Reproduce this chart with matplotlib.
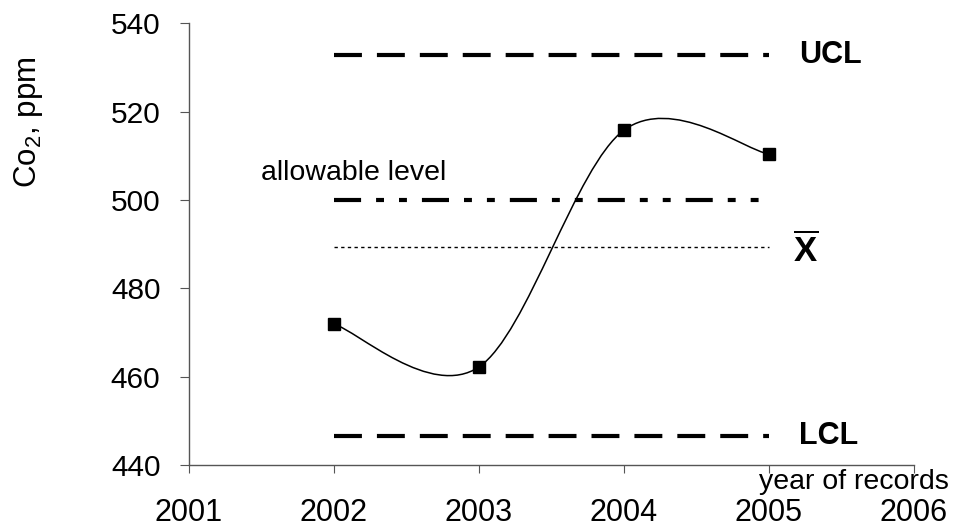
import numpy as np
import matplotlib
matplotlib.use('Agg')
import matplotlib.pyplot as plt
from matplotlib.path import Path
from matplotlib.patches import PathPatch

# --- dados ---
years = [2002, 2003, 2004, 2005]
co2 = [471.9, 462.2, 515.8, 510.4]

ucl = 532.8
lcl = 446.6
allowable = 500.0
mean_x = 489.4

x_ticks = [2001, 2002, 2003, 2004, 2005, 2006]
y_ticks = [440, 460, 480, 500, 520, 540]

plt.rcParams['font.family'] = ['Liberation Sans', 'DejaVu Sans']
plt.rcParams['mathtext.fontset'] = 'custom'
plt.rcParams['mathtext.rm'] = 'Liberation Sans'
plt.rcParams['mathtext.it'] = 'Liberation Sans:italic'
plt.rcParams['mathtext.bf'] = 'Liberation Sans:bold'

fig = plt.figure(figsize=(9.64, 5.30), dpi=100)
ax = fig.add_axes([0.196, 0.1226, 0.752, 0.8334])

# curva suavizada (estilo Excel: bezier com tangentes /6)
px = np.array(years, dtype=float)
py = np.array(co2, dtype=float)
ext_x = np.concatenate([[px[0]], px, [px[-1]]])
ext_y = np.concatenate([[py[0]], py, [py[-1]]])
verts = [(px[0], py[0])]
codes = [Path.MOVETO]
for i in range(len(px) - 1):
    j = i + 1
    c1 = (px[i] + (ext_x[j + 1] - ext_x[j - 1]) / 6, py[i] + (ext_y[j + 1] - ext_y[j - 1]) / 6)
    c2 = (px[i + 1] - (ext_x[j + 2] - ext_x[j]) / 6, py[i + 1] - (ext_y[j + 2] - ext_y[j]) / 6)
    verts += [c1, c2, (px[i + 1], py[i + 1])]
    codes += [Path.CURVE4] * 3
ax.add_patch(PathPatch(Path(verts, codes), facecolor='none', edgecolor='black', lw=1.1))
ax.plot(years, co2, 's', color='black', markersize=8, zorder=5)

# linhas de controle
x0, x1 = years[0], years[-1]
ax.plot([x0, x1], [ucl, ucl], color='black', lw=3, linestyle=(0, (6.7, 3.6)))
ax.plot([x0, x1], [lcl, lcl], color='black', lw=3, linestyle=(0, (6.7, 3.6)))
ax.plot([x0, x1], [allowable, allowable], color='black', lw=3,
        linestyle=(0, (6.5, 3.6, 1.9, 3.6, 1.9, 3.6)))
ax.plot([x0, x1], [mean_x, mean_x], color='black', lw=1, linestyle=(0, (2.4, 2.4)))

ax.text(2005.21, ucl, 'UCL', fontsize=22, fontweight='bold', va='center', ha='left')
ax.text(2005.21, lcl, 'LCL', fontsize=22, fontweight='bold', va='center', ha='left')
ax.text(2005.25, mean_x - 0.8, r'$\mathbf{\overline{X}}$', fontsize=25, va='center', ha='center')
ax.text(2001.5, 506.1, 'allowable level', fontsize=20.5, va='center', ha='left')

ax.set_xlim(2001, 2006)
ax.set_ylim(440, 540)
ax.set_xticks(x_ticks)
ax.set_yticks(y_ticks)
ax.set_xticklabels([str(t) for t in x_ticks], fontsize=22)
ax.set_yticklabels([str(t) for t in y_ticks], fontsize=21.5)

for s in ['top', 'right']:
    ax.spines[s].set_visible(False)
for s in ['left', 'bottom']:
    ax.spines[s].set_color('#555555')
    ax.spines[s].set_linewidth(1)
ax.tick_params(axis='x', direction='out', length=6, color='#555555', pad=18)
ax.tick_params(axis='y', direction='out', length=6.5, color='#555555', pad=14)

ax.set_ylabel(r'Co$_\mathregular{2}$, ppm', fontsize=22.5)
ax.yaxis.set_label_coords(-0.199, 0.775)
ax.text(1.048, -0.039, 'year of records', transform=ax.transAxes, fontsize=20.5,
        ha='right', va='center')

fig.savefig('out.png', dpi=100)
